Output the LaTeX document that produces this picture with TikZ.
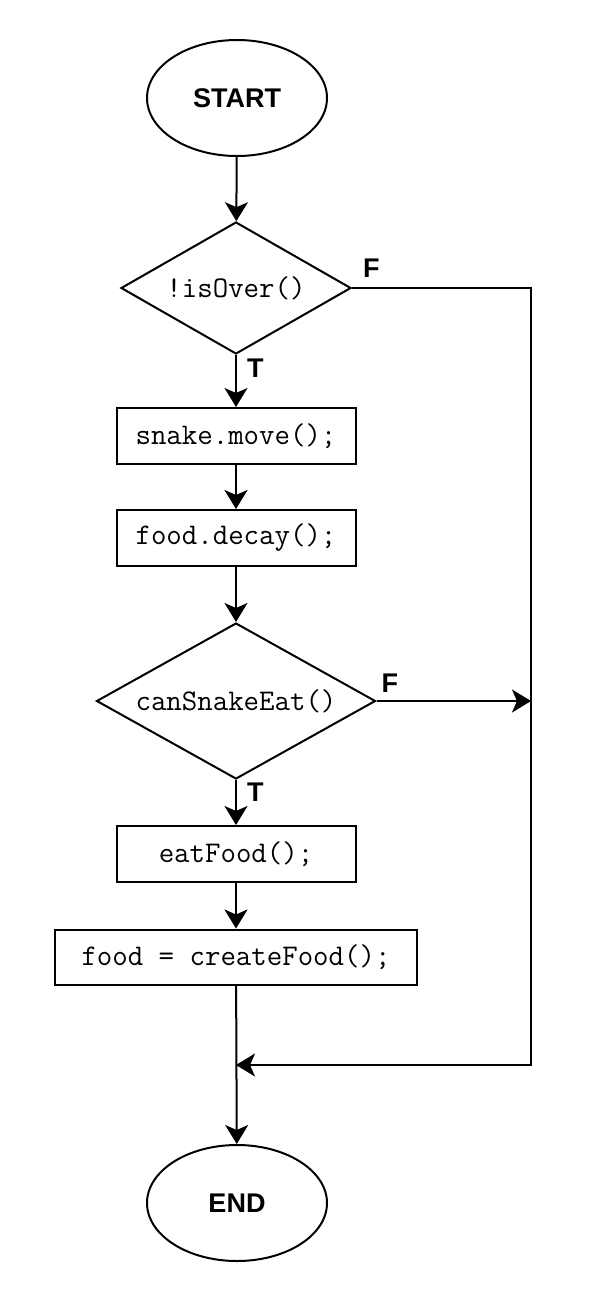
\documentclass[tikz,border=0pt]{standalone}
\usepackage{fontspec}
\setmainfont{Liberation Sans}
\usetikzlibrary{arrows.meta,shapes.geometric}

\begin{document}
\begin{tikzpicture}[x=0.5pt,y=-0.5pt,line width=1pt,
  >={Stealth[length=9.5pt,width=11.5pt,inset=2.5pt]},
  term/.style={ellipse,draw,minimum width=90pt,minimum height=58pt,
    font=\bfseries\fontsize{13.5}{16}\selectfont},
  stmt/.style={rectangle,draw,minimum width=119.5pt,minimum height=28pt,
    font=\ttfamily\fontsize{15}{17}\selectfont},
  cond/.style={diamond,draw,inner sep=0pt,aspect=1.76,
    font=\ttfamily\fontsize{15}{17}\selectfont},
  lbl/.style={font=\bfseries\fontsize{13.5}{16}\selectfont,inner sep=3pt}]
\useasboundingbox (0,0) rectangle (604,1292);
\node[term] (start) at (237,98) {START};
\node[cond,minimum width=115pt,minimum height=66pt] (over) at (236,288) {!isOver()};
\node[stmt] (move) at (236,436) {snake.move();};
\node[stmt] (decay) at (236,538) {food.decay();};
\node[cond,minimum width=139.5pt,minimum height=78pt] (eat) at (236,701) {canSnakeEat()};
\node[stmt] (eatfood) at (236,854) {eatFood();};
\node[stmt,minimum width=181pt,minimum height=27.5pt] (create) at (236,957) {food = createFood();};
\node[term] (end) at (237,1203) {END};
\coordinate (join) at (236,1065);
\coordinate (rail) at (531,1065);
\coordinate (railmid) at (531,701);

\draw[->] (start) -- (over);
\draw[->] (over) -- node[lbl,pos=0.25,right,xshift=2pt] {T} (move);
\draw[->] (move) -- (decay);
\draw[->] (decay) -- (eat);
\draw[->] (eat) -- node[lbl,pos=0.26,right,xshift=2pt] {T} (eatfood);
\draw[->] (eatfood) -- (create);
\draw[->] (create) -- (end);
% false branches
\draw[->] (over.east) node[lbl,above right,xshift=2pt,yshift=2pt] {F} -| (rail) -- (join);
\draw[->] (eat.east) node[lbl,above right,xshift=-1pt,yshift=1pt] {F} -- (railmid);
\end{tikzpicture}
\end{document}
